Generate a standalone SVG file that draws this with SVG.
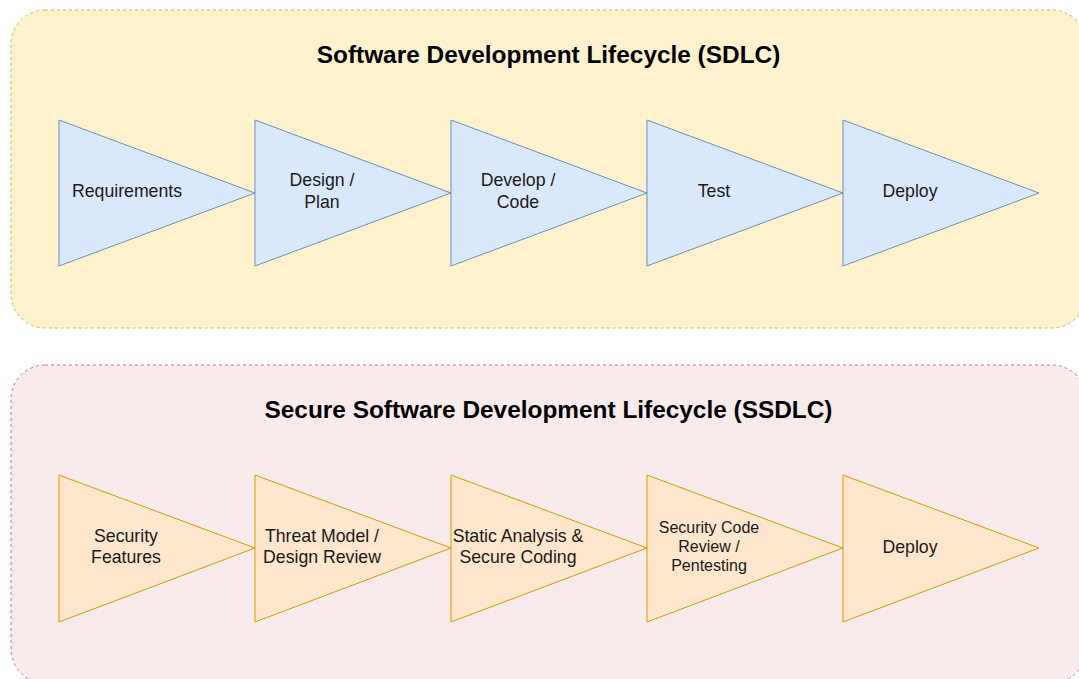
<svg xmlns="http://www.w3.org/2000/svg" width="1079" height="679" viewBox="0 0 1079 679">
<style>
.t{font-family:"Liberation Sans",Arial,sans-serif;font-size:17.7px;fill:#1a1a1a;text-anchor:middle}
.s{font-size:16px}
.h{font-family:"Liberation Sans",Arial,sans-serif;font-size:24.4px;font-weight:bold;fill:#000;text-anchor:middle}
.b{fill:#dae8fc;stroke:#6c8ebf;stroke-width:1}
.o{fill:#ffe6cc;stroke:#d79b00;stroke-width:1}
</style>
<rect width="1079" height="679" fill="#ffffff"/>
<g id="sdlc">
<rect x="11" y="10" width="1075" height="318" rx="34" fill="#fff2cc" stroke="#d6b656" stroke-dasharray="3 3"/>
<text class="h" x="548.5" y="63">Software Development Lifecycle (SDLC)</text>
</g>
<g id="ssdlc">
<rect x="11" y="365" width="1075" height="318" rx="34" fill="#f9ebeb" stroke="#cc7777" stroke-dasharray="3 3"/>
<text class="h" x="548.5" y="418">Secure Software Development Lifecycle (SSDLC)</text>
</g>
<g id="requirements"><polygon class="b" points="59,120 255,193 59,266"/><text class="t" x="127" y="197">Requirements</text></g>
<g id="design"><polygon class="b" points="255,120 451,193 255,266"/><text class="t" x="322" y="186">Design /</text><text class="t" x="322" y="208">Plan</text></g>
<g id="develop"><polygon class="b" points="451,120 647,193 451,266"/><text class="t" x="518" y="186">Develop /</text><text class="t" x="518" y="208">Code</text></g>
<g id="test"><polygon class="b" points="647,120 843,193 647,266"/><text class="t" x="714" y="197">Test</text></g>
<g id="deploy1"><polygon class="b" points="843,120 1039,193 843,266"/><text class="t" x="910" y="197">Deploy</text></g>
<g id="secfeatures"><polygon class="o" points="59,475 255,548 59,622"/><text class="t" x="126" y="542">Security</text><text class="t" x="126" y="563">Features</text></g>
<g id="threat"><polygon class="o" points="255,475 451,548 255,622"/><text class="t" x="322" y="542">Threat Model /</text><text class="t" x="322" y="563">Design Review</text></g>
<g id="static"><polygon class="o" points="451,475 647,548 451,622"/><text class="t" x="518" y="542">Static Analysis &amp;</text><text class="t" x="518" y="563">Secure Coding</text></g>
<g id="review"><polygon class="o" points="647,475 843,548 647,622"/><text class="t s" x="709" y="533">Security Code</text><text class="t s" x="709" y="552">Review /</text><text class="t s" x="709" y="571">Pentesting</text></g>
<g id="deploy2"><polygon class="o" points="843,475 1039,548 843,622"/><text class="t" x="910" y="553">Deploy</text></g>
<g id="connectors"></g>
</svg>
